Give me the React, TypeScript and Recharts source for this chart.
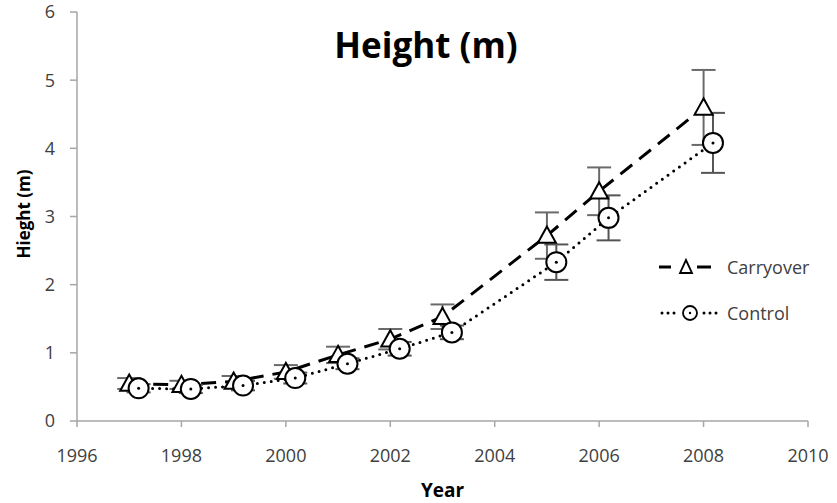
import React from 'react';
import { LineChart, Line, XAxis, YAxis, ErrorBar } from 'recharts';

const years = [1997, 1998, 1999, 2000, 2001, 2002, 2003, 2005, 2006, 2008];
const carryoverHeight = [0.55, 0.53, 0.58, 0.72, 0.97, 1.2, 1.53, 2.72, 3.37, 4.6];
const carryoverErr = [0.08, 0.06, 0.08, 0.1, 0.12, 0.15, 0.18, 0.34, 0.35, 0.55];
const controlOffset = 0.18;
const controlHeight = [0.48, 0.47, 0.52, 0.63, 0.84, 1.06, 1.3, 2.33, 2.98, 4.08];
const controlErr = [0.06, 0.06, 0.07, 0.08, 0.08, 0.1, 0.1, 0.26, 0.33, 0.44];
const xTicks = [1996, 1998, 2000, 2002, 2004, 2006, 2008, 2010];
const yTicks = [0, 1, 2, 3, 4, 5, 6];
const seriesNames = ['Carryover', 'Control'];

const carryoverData = years.map((x, i) => ({ x, y: carryoverHeight[i], err: carryoverErr[i] }));
const controlData = years.map((x, i) => ({ x: x + controlOffset, y: controlHeight[i], err: controlErr[i] }));

const FONT = "'Open Sans', sans-serif";
const AXIS = '#a6a6a6';
const TEXT = '#404040';

const TriangleDot = (props: any) => {
  const { cx, cy, index } = props;
  if (cx == null || cy == null) return null;
  const s = 9;
  return (
    <polygon
      key={`tri-${index}`}
      points={`${cx},${cy - s} ${cx - s},${cy + s * 0.8} ${cx + s},${cy + s * 0.8}`}
      fill="#fff"
      stroke="#000"
      strokeWidth={2}
    />
  );
};

const CircleDot = (props: any) => {
  const { cx, cy, index } = props;
  if (cx == null || cy == null) return null;
  return (
    <g key={`cir-${index}`}>
      <circle cx={cx} cy={cy} r={10} fill="#fff" stroke="#000" strokeWidth={2} />
      <circle cx={cx} cy={cy} r={1.5} fill="#000" />
    </g>
  );
};

export default function App() {
  return (
    <div style={{ position: 'absolute', left: 0, top: 0, width: 837, height: 503, background: '#fff', fontFamily: FONT }}>
      <LineChart width={837} height={503} margin={{ top: 12, right: 29, bottom: 0, left: 0 }}>
        <XAxis
          type="number"
          dataKey="x"
          domain={[1996, 2010]}
          ticks={xTicks}
          height={82}
          tickSize={6}
          tickMargin={22}
          axisLine={{ stroke: AXIS, strokeWidth: 1.5 }}
          tickLine={{ stroke: AXIS, strokeWidth: 1.5 }}
          tick={{ fill: TEXT, fontSize: 18, fontFamily: FONT }}
          label={{ value: 'Year', position: 'insideBottom', offset: 6, fill: '#000', fontSize: 19, fontWeight: 700, fontFamily: FONT }}
        />
        <YAxis
          type="number"
          domain={[0, 6]}
          ticks={yTicks}
          width={77}
          tickSize={7}
          tickMargin={15}
          axisLine={{ stroke: AXIS, strokeWidth: 1.5 }}
          tickLine={{ stroke: AXIS, strokeWidth: 1.5 }}
          tick={{ fill: TEXT, fontSize: 18, fontFamily: FONT }}
        />
        <Line
          name={seriesNames[0]}
          data={carryoverData}
          dataKey="y"
          stroke="#000"
          strokeWidth={3}
          strokeDasharray="15 9"
          dot={TriangleDot}
          activeDot={false}
          isAnimationActive={false}
        >
          <ErrorBar dataKey="err" direction="y" width={12} stroke="#6a6a6a" strokeWidth={2} />
        </Line>
        <Line
          name={seriesNames[1]}
          data={controlData}
          dataKey="y"
          stroke="#000"
          strokeWidth={3}
          strokeDasharray="0 7"
          strokeLinecap="round"
          dot={CircleDot}
          activeDot={false}
          isAnimationActive={false}
        >
          <ErrorBar dataKey="err" direction="y" width={12} stroke="#555" strokeWidth={2} />
        </Line>
      </LineChart>
      <svg width={837} height={503} style={{ position: 'absolute', left: 0, top: 0, pointerEvents: 'none' }}>
        <text x={426} y={58} textAnchor="middle" fontSize={35} fontWeight={700} fontFamily={FONT} fill="#000">Height (m)</text>
        <text x={30} y={214} textAnchor="middle" fontSize={17} fontWeight={700} fontFamily={FONT} fill="#000" transform="rotate(-90, 30, 214)">Hieght (m)</text>
        <g>
          <line x1={659} x2={671} y1={267} y2={267} stroke="#000" strokeWidth={3} />
          <polygon points="686,260 680,273 692,273" fill="#fff" stroke="#000" strokeWidth={1.8} />
          <line x1={697} x2={711} y1={267} y2={267} stroke="#000" strokeWidth={3} />
          <text x={727} y={274} fontSize={18} fontFamily={FONT} fill={TEXT}>{seriesNames[0]}</text>
          <line x1={662} x2={676} y1={313} y2={313} stroke="#000" strokeWidth={3} strokeDasharray="0 6" strokeLinecap="round" />
          <circle cx={690} cy={313} r={7} fill="#fff" stroke="#000" strokeWidth={1.8} />
          <circle cx={690} cy={313} r={1.2} fill="#000" />
          <line x1={704} x2={718} y1={313} y2={313} stroke="#000" strokeWidth={3} strokeDasharray="0 6" strokeLinecap="round" />
          <text x={727} y={320} fontSize={18} fontFamily={FONT} fill={TEXT}>{seriesNames[1]}</text>
        </g>
      </svg>
    </div>
  );
}
